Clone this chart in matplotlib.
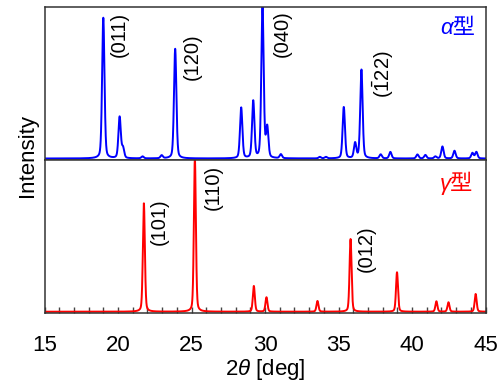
import matplotlib
matplotlib.use('Agg')
import matplotlib.pyplot as plt
import numpy as np

plt.rcParams['font.family'] = ['Liberation Sans', 'Noto Sans CJK JP']
plt.rcParams['mathtext.fontset'] = 'custom'
plt.rcParams['mathtext.rm'] = 'Liberation Sans'
plt.rcParams['mathtext.it'] = 'Liberation Sans:italic'

# alpha form: peak positions (2theta, deg) and heights (arb. units)
alpha_pos = [19.0, 20.11, 20.34, 21.67, 22.97, 23.89, 28.38, 29.2, 29.83, 30.15,
             31.08, 33.73, 34.14, 35.36, 36.13, 36.56, 37.87, 38.53, 40.37, 40.91,
             41.59, 42.07, 42.89, 44.11, 44.38]
alpha_int = [140.7, 41.3, 10.0, 2.0, 3.0, 109.7, 50.7, 57.0, 152.0, 30.0,
             4.0, 1.5, 1.5, 51.3, 15.0, 88.7, 4.0, 6.5, 4.0, 3.5,
             2.0, 12.0, 7.7, 5.5, 6.5]

# gamma form
gamma_pos = [21.76, 25.23, 29.24, 30.1, 33.57, 35.82, 38.98, 41.66, 42.48, 44.33]
gamma_int = [108.4, 153.0, 25.7, 14.4, 10.7, 72.7, 39.4, 10.4, 9.4, 17.7]

# miller index labels
alpha_labels = ['(011)', '(120)', '(040)', r'($\bar{1}$22)']
alpha_label_x = [19.45, 24.39, 30.51, 37.18]
alpha_label_y = [146.5, 125.5, 148.5, 108.5]
gamma_labels = ['(101)', '(110)', '(012)']
gamma_label_x = [22.17, 25.8, 36.22]
gamma_label_y = [113.4, 146.7, 86.7]

x = np.linspace(15, 45, 6000)


def profile(pos, inten, fwhm):
    # pseudo-Voigt peaks
    y = np.zeros_like(x)
    s = fwhm / 2.3548
    g = fwhm / 2
    for p, h in zip(pos, inten):
        gau = np.exp(-(x - p) ** 2 / (2 * s ** 2))
        lor = g ** 2 / ((x - p) ** 2 + g ** 2)
        y += h * (0.7 * gau + 0.3 * lor)
    return y


fig = plt.figure(figsize=(5, 3.85), dpi=100)
ax1 = fig.add_axes([0.089, 0.5844, 0.882, 0.3966])
ax2 = fig.add_axes([0.089, 0.1883, 0.882, 0.3961])

ax1.plot(x, profile(alpha_pos, alpha_int, 0.19), color='#0000ff', lw=1.4)
ax2.plot(x, profile(gamma_pos, gamma_int, 0.16), color='#ff0000', lw=1.4)

ax1.set_ylim(-1.5, 151.2)
ax2.set_ylim(-0.8, 151.7)
for ax in (ax1, ax2):
    ax.set_xlim(15, 45)
    ax.set_yticks([])
    for sp in ax.spines.values():
        sp.set_color('#333333')
        sp.set_linewidth(1.1)

ax1.set_xticks([])
ax2.set_xticks(np.arange(15, 46, 5))
ax2.set_xticks(np.arange(15, 46, 1), minor=True)
ax2.tick_params(axis='x', which='both', direction='in', length=4, width=1,
                color='#444444', labelsize=16, pad=16)

for t, tx, ty in zip(alpha_labels, alpha_label_x, alpha_label_y):
    ax1.text(tx, ty, t, rotation=90, ha='left', va='top', fontsize=14.5)
for t, tx, ty in zip(gamma_labels, gamma_label_x, gamma_label_y):
    ax2.text(tx, ty, t, rotation=90, ha='left', va='top', fontsize=14.5)

ax1.text(0.976, 0.858, 'α型', transform=ax1.transAxes, ha='right', va='center',
         fontsize=16, color='#0000ff', style='italic',
         family=['Liberation Sans', 'Noto Sans CJK JP'])
ax2.text(0.972, 0.85, 'γ型', transform=ax2.transAxes, ha='right', va='center',
         fontsize=16, color='#ff0000', style='italic',
         family=['Liberation Sans', 'Noto Sans CJK JP'])

ax2.set_xlabel(r'2$\theta$ [deg]', fontsize=16, labelpad=1)
fig.text(0.054, 1 - 155.5 / 385, 'Intensity', rotation=90, ha='center',
         va='center', fontsize=16)

fig.savefig('out.png', dpi=100)
